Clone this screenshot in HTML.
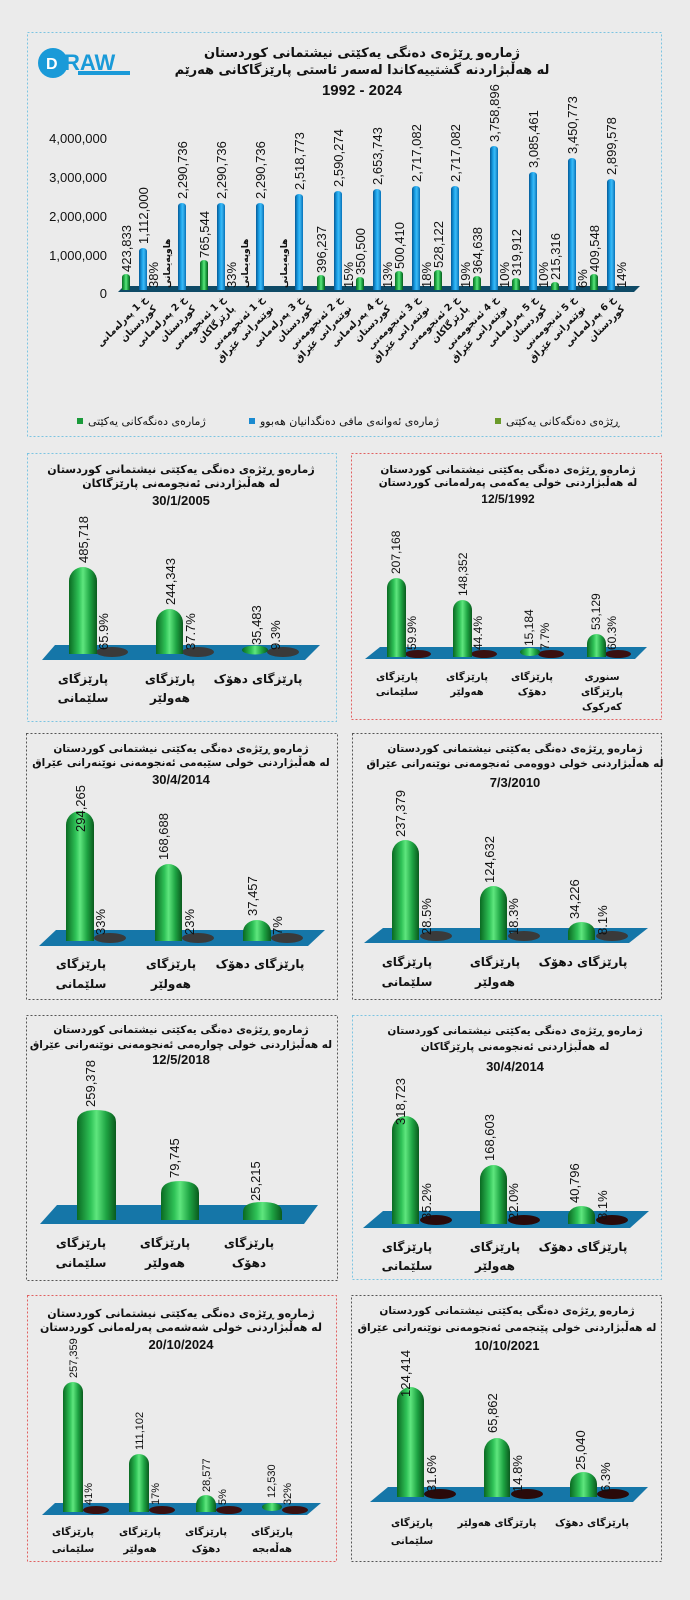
<!DOCTYPE html>
<html><head><meta charset="utf-8"><style>
html,body{margin:0;padding:0;background:#ebebeb;}
svg{display:block;}
.t{font-family:"DejaVu Sans","Liberation Sans",sans-serif;font-weight:bold;fill:#111;}
.v{font-family:"Liberation Sans",sans-serif;fill:#111;}
</style></head><body>
<svg width="690" height="1600" viewBox="0 0 690 1600" xmlns="http://www.w3.org/2000/svg">
<defs>
<linearGradient id="g" x1="0" x2="1" y1="0" y2="0">
<stop offset="0" stop-color="#0a6a22"/><stop offset="0.35" stop-color="#2fc257"/><stop offset="0.5" stop-color="#5fe67e"/><stop offset="0.75" stop-color="#1ea443"/><stop offset="1" stop-color="#0a5a1d"/></linearGradient>
<linearGradient id="b" x1="0" x2="1" y1="0" y2="0">
<stop offset="0" stop-color="#045a98"/><stop offset="0.4" stop-color="#1ea6ec"/><stop offset="0.6" stop-color="#3cbaf5"/><stop offset="1" stop-color="#0670b8"/></linearGradient>
</defs>
<rect width="690" height="1600" fill="#ebebeb"/>

<!-- TOP PANEL -->
<rect x="27.5" y="32.5" width="634" height="404" fill="none" stroke="#7cc4e2" stroke-dasharray="2,2"/>
<circle cx="53" cy="63" r="15" fill="#1a9ad8"/>
<text x="46" y="69" class="v" style="font-size:16px;font-weight:bold;fill:#fff">D</text>
<text x="64" y="70" class="v" style="font-size:22px;font-weight:bold;fill:#1a9ad8">RAW</text>
<rect x="78" y="71" width="52" height="4" fill="#1a9ad8"/>
<text x="362" y="57" text-anchor="middle" class="t" style="font-size:13px">ژمارەو ڕێژەی دەنگی یەکێتی نیشتمانی کوردستان</text>
<text x="362" y="74" text-anchor="middle" class="t" style="font-size:13px">لە هەڵبژاردنە گشتییەکاندا لەسەر ئاستی پارێزگاکانی هەرێم</text>
<text x="362" y="95" text-anchor="middle" class="v" style="font-size:15px;font-weight:bold">1992 - 2024</text>
<g class="v" style="font-size:13px" text-anchor="end">
<text x="107" y="143">4,000,000</text><text x="107" y="182">3,000,000</text><text x="107" y="221">2,000,000</text><text x="107" y="260">1,000,000</text><text x="107" y="298">0</text></g>
<polygon points="118,292 124,286 640,286 634,292" fill="#0e4a66"/>
<g id="topbars">
<path d="M139 290V251A4 3 0 0 1 147 251V290Z" fill="url(#b)"/>
<path d="M178 290V206A4 3 0 0 1 186 206V290Z" fill="url(#b)"/>
<path d="M217 290V206A4 3 0 0 1 225 206V290Z" fill="url(#b)"/>
<path d="M256 290V206A4 3 0 0 1 264 206V290Z" fill="url(#b)"/>
<path d="M295 290V197A4 3 0 0 1 303 197V290Z" fill="url(#b)"/>
<path d="M334 290V194A4 3 0 0 1 342 194V290Z" fill="url(#b)"/>
<path d="M373 290V192A4 3 0 0 1 381 192V290Z" fill="url(#b)"/>
<path d="M412 290V189A4 3 0 0 1 420 189V290Z" fill="url(#b)"/>
<path d="M451 290V189A4 3 0 0 1 459 189V290Z" fill="url(#b)"/>
<path d="M490 290V149A4 3 0 0 1 498 149V290Z" fill="url(#b)"/>
<path d="M529 290V175A4 3 0 0 1 537 175V290Z" fill="url(#b)"/>
<path d="M568 290V161A4 3 0 0 1 576 161V290Z" fill="url(#b)"/>
<path d="M607 290V182A4 3 0 0 1 615 182V290Z" fill="url(#b)"/>
<path d="M122 290V277A4 3 0 0 1 130 277V290Z" fill="url(#g)"/>
<path d="M200 290V263A4 3 0 0 1 208 263V290Z" fill="url(#g)"/>
<path d="M317 290V278A4 3 0 0 1 325 278V290Z" fill="url(#g)"/>
<path d="M356 290V280A4 3 0 0 1 364 280V290Z" fill="url(#g)"/>
<path d="M395 290V274A4 3 0 0 1 403 274V290Z" fill="url(#g)"/>
<path d="M434 290V273A4 3 0 0 1 442 273V290Z" fill="url(#g)"/>
<path d="M473 290V279A4 3 0 0 1 481 279V290Z" fill="url(#g)"/>
<path d="M512 290V281A4 3 0 0 1 520 281V290Z" fill="url(#g)"/>
<path d="M551 290V285A4 3 0 0 1 559 285V290Z" fill="url(#g)"/>
<path d="M590 290V277A4 3 0 0 1 598 277V290Z" fill="url(#g)"/>
</g>
<g class="v" style="font-size:13px">
<text transform="translate(148,244) rotate(-90)">1,112,000</text>
<text transform="translate(187,199) rotate(-90)">2,290,736</text>
<text transform="translate(226,199) rotate(-90)">2,290,736</text>
<text transform="translate(265,199) rotate(-90)">2,290,736</text>
<text transform="translate(304,190) rotate(-90)">2,518,773</text>
<text transform="translate(343,187) rotate(-90)">2,590,274</text>
<text transform="translate(382,185) rotate(-90)">2,653,743</text>
<text transform="translate(421,182) rotate(-90)">2,717,082</text>
<text transform="translate(460,182) rotate(-90)">2,717,082</text>
<text transform="translate(499,142) rotate(-90)">3,758,896</text>
<text transform="translate(538,168) rotate(-90)">3,085,461</text>
<text transform="translate(577,154) rotate(-90)">3,450,773</text>
<text transform="translate(616,175) rotate(-90)">2,899,578</text>
<text transform="translate(131,272) rotate(-90)">423,833</text>
<text transform="translate(209,258) rotate(-90)">765,544</text>
<text transform="translate(326,273) rotate(-90)">396,237</text>
<text transform="translate(365,275) rotate(-90)">350,500</text>
<text transform="translate(404,269) rotate(-90)">500,410</text>
<text transform="translate(443,268) rotate(-90)">528,122</text>
<text transform="translate(482,274) rotate(-90)">364,638</text>
<text transform="translate(521,276) rotate(-90)">319,912</text>
<text transform="translate(560,280) rotate(-90)">215,316</text>
<text transform="translate(599,272) rotate(-90)">409,548</text>
<text transform="translate(158,288) rotate(-90)">38%</text>
<text transform="translate(236,288) rotate(-90)">33%</text>
<text transform="translate(353,288) rotate(-90)">15%</text>
<text transform="translate(392,288) rotate(-90)">13%</text>
<text transform="translate(431,288) rotate(-90)">18%</text>
<text transform="translate(470,288) rotate(-90)">19%</text>
<text transform="translate(509,288) rotate(-90)">10%</text>
<text transform="translate(548,288) rotate(-90)">10%</text>
<text transform="translate(587,288) rotate(-90)">6%</text>
<text transform="translate(626,288) rotate(-90)">14%</text>
</g>
<g class="t" style="font-size:9px">
<text transform="translate(170,288) rotate(-90)">هاوپەیمانی</text>
<text transform="translate(248,288) rotate(-90)">هاوپەیمانی</text>
<text transform="translate(287,288) rotate(-90)">هاوپەیمانی</text>
</g>
<g class="t" style="font-size:9.5px" text-anchor="end">
<g transform="translate(148,300) rotate(-45)"><text>خ 1 پەرلەمانی</text><text y="13">کوردستان</text></g>
<g transform="translate(187,300) rotate(-45)"><text>خ 2 پەرلەمانی</text><text y="13">کوردستان</text></g>
<g transform="translate(226,300) rotate(-45)"><text>خ 1 ئەنجومەنی</text><text y="13">پارێزگاکان</text></g>
<g transform="translate(265,300) rotate(-45)"><text>خ 1 ئەنجومەنی</text><text y="13">نوێنەرانی عێراق</text></g>
<g transform="translate(304,300) rotate(-45)"><text>خ 3 پەرلەمانی</text><text y="13">کوردستان</text></g>
<g transform="translate(343,300) rotate(-45)"><text>خ 2 ئەنجومەنی</text><text y="13">نوێنەرانی عێراق</text></g>
<g transform="translate(382,300) rotate(-45)"><text>خ 4 پەرلەمانی</text><text y="13">کوردستان</text></g>
<g transform="translate(421,300) rotate(-45)"><text>خ 3 ئەنجومەنی</text><text y="13">نوێنەرانی عێراق</text></g>
<g transform="translate(460,300) rotate(-45)"><text>خ 2 ئەنجومەنی</text><text y="13">پارێزگاکان</text></g>
<g transform="translate(499,300) rotate(-45)"><text>خ 4 ئەنجومەنی</text><text y="13">نوێنەرانی عێراق</text></g>
<g transform="translate(538,300) rotate(-45)"><text>خ 5 پەرلەمانی</text><text y="13">کوردستان</text></g>
<g transform="translate(577,300) rotate(-45)"><text>خ 5 ئەنجومەنی</text><text y="13">نوێنەرانی عێراق</text></g>
<g transform="translate(616,300) rotate(-45)"><text>خ 6 پەرلەمانی</text><text y="13">کوردستان</text></g>
</g>
<rect x="77" y="418" width="6" height="6" fill="#1a9a3a"/>
<text x="88" y="425" class="t" style="font-size:11px;font-weight:normal">ژمارەی دەنگەکانی یەکێتی</text>
<rect x="249" y="418" width="6" height="6" fill="#1a8ad0"/>
<text x="260" y="425" class="t" style="font-size:11px;font-weight:normal">ژمارەی ئەوانەی مافی دەنگدانیان هەبوو</text>
<rect x="495" y="418" width="6" height="6" fill="#6a9a2a"/>
<text x="506" y="425" class="t" style="font-size:11px;font-weight:normal">ڕێژەی دەنگەکانی یەکێتی</text>

<!-- P2 -->
<rect x="27.5" y="453.5" width="309" height="268" fill="none" stroke="#7cc4e2" stroke-dasharray="2,2"/>
<text x="181" y="473" text-anchor="middle" class="t" style="font-size:11px">ژمارەو ڕێژەی دەنگی یەکێتی نیشتمانی کوردستان</text>
<text x="181" y="487" text-anchor="middle" class="t" style="font-size:11px">لە هەڵبژاردنی ئەنجومەنی پارێزگاکان</text>
<text x="181" y="505" text-anchor="middle" class="v" style="font-size:13px;font-weight:bold">30/1/2005</text>
<polygon points="42,660 55,645 320,645 305,660" fill="#1576a8"/>
<ellipse cx="112" cy="652" rx="16" ry="5" fill="#3a3a3a"/><ellipse cx="198" cy="652" rx="16" ry="5" fill="#3a3a3a"/><ellipse cx="283" cy="652" rx="16" ry="5" fill="#3a3a3a"/>
<path d="M69 654V581A14 14 0 0 1 97 581V654Z" fill="url(#g)"/>
<path d="M156 654V623A13.5 14 0 0 1 183 623V654Z" fill="url(#g)"/>
<ellipse cx="255" cy="650" rx="13" ry="4.5" fill="url(#g)"/>
<g class="v" style="font-size:13px">
<text transform="translate(88,563) rotate(-90)">485,718</text>
<text transform="translate(175,605) rotate(-90)">244,343</text>
<text transform="translate(261,645) rotate(-90)">35,483</text>
<text transform="translate(108,650) rotate(-90)">65.9%</text>
<text transform="translate(195,650) rotate(-90)">37.7%</text>
<text transform="translate(280,650) rotate(-90)">9.3%</text>
</g>
<g class="t" style="font-size:12px" text-anchor="middle">
<text x="83" y="683">پارێزگای</text><text x="83" y="702">سلێمانی</text>
<text x="170" y="683">پارێزگای</text><text x="170" y="702">هەولێر</text>
<text x="258" y="683">پارێزگای دهۆک</text></g>

<!-- P3 -->
<rect x="351.5" y="453.5" width="310" height="266" fill="none" stroke="#e06060" stroke-dasharray="2,2"/>
<text x="508" y="473" text-anchor="middle" class="t" style="font-size:10.5px">ژمارەو ڕێژەی دەنگی یەکێتی نیشتمانی کوردستان</text>
<text x="508" y="486" text-anchor="middle" class="t" style="font-size:10.5px">لە هەڵبژاردنی خولی یەکەمی پەرلەمانی کوردستان</text>
<text x="508" y="503" text-anchor="middle" class="v" style="font-size:12px;font-weight:bold">12/5/1992</text>
<polygon points="365,659 380,647 647,647 635,659" fill="#1576a8"/>
<ellipse cx="418" cy="654" rx="13" ry="4" fill="#3a1010"/><ellipse cx="484" cy="654" rx="13" ry="4" fill="#3a1010"/><ellipse cx="551" cy="654" rx="13" ry="4" fill="#3a1010"/><ellipse cx="618" cy="654" rx="13" ry="4" fill="#3a1010"/>
<path d="M387 657V588A9.5 10 0 0 1 406 588V657Z" fill="url(#g)"/>
<path d="M453 657V610A9.5 10 0 0 1 472 610V657Z" fill="url(#g)"/>
<ellipse cx="530" cy="652" rx="10" ry="4" fill="url(#g)"/>
<path d="M587 657V644A9.5 10 0 0 1 606 644V657Z" fill="url(#g)"/>
<g class="v" style="font-size:12px">
<text transform="translate(400,574) rotate(-90)">207,168</text>
<text transform="translate(467,596) rotate(-90)">148,352</text>
<text transform="translate(533,646) rotate(-90)">15,184</text>
<text transform="translate(600,630) rotate(-90)">53,129</text>
<text transform="translate(416,650) rotate(-90)">59.9%</text>
<text transform="translate(482,650) rotate(-90)">44.4%</text>
<text transform="translate(549,650) rotate(-90)">7.7%</text>
<text transform="translate(616,650) rotate(-90)">60.3%</text>
</g>
<g class="t" style="font-size:10px" text-anchor="middle">
<text x="397" y="680">پارێزگای</text><text x="397" y="695">سلێمانی</text>
<text x="467" y="680">پارێزگای</text><text x="467" y="695">هەولێر</text>
<text x="532" y="680">پارێزگای</text><text x="532" y="695">دهۆک</text>
<text x="602" y="680">سنوری</text><text x="602" y="695">پارێزگای</text><text x="602" y="710">کەرکوک</text></g>

<!-- P4 -->
<rect x="26.5" y="733.5" width="311" height="266" fill="none" stroke="#555" stroke-dasharray="2,2"/>
<text x="181" y="752" text-anchor="middle" class="t" style="font-size:10.5px">ژمارەو ڕێژەی دەنگی یەکێتی نیشتمانی کوردستان</text>
<text x="181" y="766" text-anchor="middle" class="t" style="font-size:10.5px">لە هەڵبژاردنی خولی سێیەمی ئەنجومەنی نوێنەرانی عێراق</text>
<text x="181" y="784" text-anchor="middle" class="v" style="font-size:13px;font-weight:bold">30/4/2014</text>
<polygon points="39,946 56,930 325,930 308,946" fill="#1576a8"/>
<ellipse cx="110" cy="938" rx="16" ry="5" fill="#3a3a3a"/><ellipse cx="198" cy="938" rx="16" ry="5" fill="#3a3a3a"/><ellipse cx="287" cy="938" rx="16" ry="5" fill="#3a3a3a"/>
<path d="M66 941V825A14 14 0 0 1 94 825V941Z" fill="url(#g)"/>
<path d="M155 941V878A13.5 14 0 0 1 182 878V941Z" fill="url(#g)"/>
<path d="M243 941V932A14 12 0 0 1 271 932V941Z" fill="url(#g)"/>
<g class="v" style="font-size:13px">
<text transform="translate(85,832) rotate(-90)">294,265</text>
<text transform="translate(168,860) rotate(-90)">168,688</text>
<text transform="translate(257,916) rotate(-90)">37,457</text>
<text transform="translate(105,935) rotate(-90)">33%</text>
<text transform="translate(194,935) rotate(-90)">23%</text>
<text transform="translate(282,935) rotate(-90)">7%</text>
</g>
<g class="t" style="font-size:12px" text-anchor="middle">
<text x="81" y="968">پارێزگای</text><text x="81" y="988">سلێمانی</text>
<text x="171" y="968">پارێزگای</text><text x="171" y="988">هەولێر</text>
<text x="260" y="968">پارێزگای دهۆک</text></g>

<!-- P5 -->
<rect x="352.5" y="733.5" width="309" height="266" fill="none" stroke="#555" stroke-dasharray="2,2"/>
<text x="515" y="752" text-anchor="middle" class="t" style="font-size:10.5px">ژمارەو ڕێژەی دەنگی یەکێتی نیشتمانی کوردستان</text>
<text x="515" y="767" text-anchor="middle" class="t" style="font-size:10.5px">لە هەڵبژاردنی خولی دووەمی ئەنجومەنی نوێنەرانی عێراق</text>
<text x="515" y="787" text-anchor="middle" class="v" style="font-size:13px;font-weight:bold">7/3/2010</text>
<polygon points="364,943 383,928 648,928 629,943" fill="#1576a8"/>
<ellipse cx="436" cy="936" rx="16" ry="5" fill="#3a3a3a"/><ellipse cx="524" cy="936" rx="16" ry="5" fill="#3a3a3a"/><ellipse cx="612" cy="936" rx="16" ry="5" fill="#3a3a3a"/>
<path d="M392 940V854A13.5 14 0 0 1 419 854V940Z" fill="url(#g)"/>
<path d="M480 940V900A13.5 14 0 0 1 507 900V940Z" fill="url(#g)"/>
<path d="M568 940V932A13.5 10 0 0 1 595 932V940Z" fill="url(#g)"/>
<g class="v" style="font-size:13px">
<text transform="translate(405,837) rotate(-90)">237,379</text>
<text transform="translate(494,883) rotate(-90)">124,632</text>
<text transform="translate(579,919) rotate(-90)">34,226</text>
<text transform="translate(431,935) rotate(-90)">28.5%</text>
<text transform="translate(518,935) rotate(-90)">18.3%</text>
<text transform="translate(607,935) rotate(-90)">8.1%</text>
</g>
<g class="t" style="font-size:12px" text-anchor="middle">
<text x="407" y="966">پارێزگای</text><text x="407" y="986">سلێمانی</text>
<text x="495" y="966">پارێزگای</text><text x="495" y="986">هەولێر</text>
<text x="583" y="966">پارێزگای دهۆک</text></g>

<!-- P6 -->
<rect x="26.5" y="1015.5" width="311" height="265" fill="none" stroke="#555" stroke-dasharray="2,2"/>
<text x="181" y="1033" text-anchor="middle" class="t" style="font-size:10.5px">ژمارەو ڕێژەی دەنگی یەکێتی نیشتمانی کوردستان</text>
<text x="181" y="1048" text-anchor="middle" class="t" style="font-size:10.5px">لە هەڵبژاردنی خولی چوارەمی ئەنجومەنی نوێنەرانی عێراق</text>
<text x="181" y="1064" text-anchor="middle" class="v" style="font-size:13px;font-weight:bold">12/5/2018</text>
<polygon points="40,1224 57,1205 318,1205 304,1224" fill="#1576a8"/>
<path d="M77 1220V1122Q77 1110 96 1110Q116 1110 116 1122V1220Z" fill="url(#g)"/>
<path d="M161 1220V1193Q161 1181 180 1181Q199 1181 199 1193V1220Z" fill="url(#g)"/>
<path d="M243 1220V1212Q243 1202 262 1202Q282 1202 282 1212V1220Z" fill="url(#g)"/>
<g class="v" style="font-size:13px">
<text transform="translate(95,1107) rotate(-90)">259,378</text>
<text transform="translate(179,1178) rotate(-90)">79,745</text>
<text transform="translate(260,1201) rotate(-90)">25,215</text>
</g>
<g class="t" style="font-size:12px" text-anchor="middle">
<text x="81" y="1247">پارێزگای</text><text x="81" y="1267">سلێمانی</text>
<text x="165" y="1247">پارێزگای</text><text x="165" y="1267">هەولێر</text>
<text x="249" y="1247">پارێزگای</text><text x="249" y="1267">دهۆک</text></g>

<!-- P7 -->
<rect x="352.5" y="1015.5" width="309" height="264" fill="none" stroke="#7cc4e2" stroke-dasharray="2,2"/>
<text x="515" y="1034" text-anchor="middle" class="t" style="font-size:10.5px">ژمارەو ڕێژەی دەنگی یەکێتی نیشتمانی کوردستان</text>
<text x="515" y="1050" text-anchor="middle" class="t" style="font-size:10.5px">لە هەڵبژاردنی ئەنجومەنی پارێزگاکان</text>
<text x="515" y="1071" text-anchor="middle" class="v" style="font-size:13px;font-weight:bold">30/4/2014</text>
<polygon points="363,1228 383,1211 649,1211 630,1228" fill="#1576a8"/>
<ellipse cx="436" cy="1220" rx="16" ry="5" fill="#2a0a0a"/><ellipse cx="524" cy="1220" rx="16" ry="5" fill="#2a0a0a"/><ellipse cx="612" cy="1220" rx="16" ry="5" fill="#2a0a0a"/>
<path d="M392 1224V1130A13.5 14 0 0 1 419 1130V1224Z" fill="url(#g)"/>
<path d="M480 1224V1179A13.5 14 0 0 1 507 1179V1224Z" fill="url(#g)"/>
<path d="M568 1224V1216A13.5 10 0 0 1 595 1216V1224Z" fill="url(#g)"/>
<g class="v" style="font-size:13px">
<text transform="translate(405,1125) rotate(-90)">318,723</text>
<text transform="translate(494,1161) rotate(-90)">168,603</text>
<text transform="translate(579,1203) rotate(-90)">40,796</text>
<text transform="translate(431,1220) rotate(-90)">35.2%</text>
<text transform="translate(518,1220) rotate(-90)">22.0%</text>
<text transform="translate(607,1220) rotate(-90)">8.1%</text>
</g>
<g class="t" style="font-size:12px" text-anchor="middle">
<text x="407" y="1251">پارێزگای</text><text x="407" y="1270">سلێمانی</text>
<text x="495" y="1251">پارێزگای</text><text x="495" y="1270">هەولێر</text>
<text x="583" y="1251">پارێزگای دهۆک</text></g>

<!-- P8 -->
<rect x="27.5" y="1295.5" width="309" height="266" fill="none" stroke="#e06060" stroke-dasharray="2,2"/>
<text x="181" y="1317" text-anchor="middle" class="t" style="font-size:11px">ژمارەو ڕێژەی دەنگی یەکێتی نیشتمانی کوردستان</text>
<text x="181" y="1331" text-anchor="middle" class="t" style="font-size:11px">لە هەڵبژاردنی خولی شەشەمی پەرلەمانی کوردستان</text>
<text x="181" y="1349" text-anchor="middle" class="v" style="font-size:13px;font-weight:bold">20/10/2024</text>
<polygon points="42,1515 55,1503 321,1503 307,1515" fill="#1576a8"/>
<ellipse cx="96" cy="1510" rx="13" ry="4" fill="#3a1010"/><ellipse cx="162" cy="1510" rx="13" ry="4" fill="#3a1010"/><ellipse cx="229" cy="1510" rx="13" ry="4" fill="#3a1010"/><ellipse cx="295" cy="1510" rx="13" ry="4" fill="#3a1010"/>
<path d="M63 1512V1392A10 10 0 0 1 83 1392V1512Z" fill="url(#g)"/>
<path d="M129 1512V1464A10 10 0 0 1 149 1464V1512Z" fill="url(#g)"/>
<path d="M196 1512V1505A10 10 0 0 1 216 1505V1512Z" fill="url(#g)"/>
<ellipse cx="272" cy="1507" rx="10" ry="4" fill="url(#g)"/>
<g class="v" style="font-size:11px">
<text transform="translate(77,1378) rotate(-90)">257,359</text>
<text transform="translate(143,1450) rotate(-90)">111,102</text>
<text transform="translate(210,1492) rotate(-90)">28,577</text>
<text transform="translate(275,1498) rotate(-90)">12,530</text>
<text transform="translate(92,1505) rotate(-90)">41%</text>
<text transform="translate(159,1505) rotate(-90)">17%</text>
<text transform="translate(226,1505) rotate(-90)">5%</text>
<text transform="translate(291,1505) rotate(-90)">32%</text>
</g>
<g class="t" style="font-size:10px" text-anchor="middle">
<text x="73" y="1535">پارێزگای</text><text x="73" y="1552">سلێمانی</text>
<text x="140" y="1535">پارێزگای</text><text x="140" y="1552">هەولێر</text>
<text x="206" y="1535">پارێزگای</text><text x="206" y="1552">دهۆک</text>
<text x="272" y="1535">پارێزگای</text><text x="272" y="1552">هەڵەبجە</text></g>

<!-- P9 -->
<rect x="351.5" y="1295.5" width="310" height="266" fill="none" stroke="#555" stroke-dasharray="2,2"/>
<text x="507" y="1314" text-anchor="middle" class="t" style="font-size:10.5px">ژمارەو ڕێژەی دەنگی یەکێتی نیشتمانی کوردستان</text>
<text x="507" y="1331" text-anchor="middle" class="t" style="font-size:10.5px">لە هەڵبژاردنی خولی پێنجەمی ئەنجومەنی نوێنەرانی عێراق</text>
<text x="507" y="1350" text-anchor="middle" class="v" style="font-size:13px;font-weight:bold">10/10/2021</text>
<polygon points="370,1502 388,1487 648,1487 633,1502" fill="#1576a8"/>
<ellipse cx="440" cy="1494" rx="16" ry="5" fill="#2a0a0a"/><ellipse cx="527" cy="1494" rx="16" ry="5" fill="#2a0a0a"/><ellipse cx="613" cy="1494" rx="16" ry="5" fill="#2a0a0a"/>
<path d="M397 1497V1401A13.5 14 0 0 1 424 1401V1497Z" fill="url(#g)"/>
<path d="M484 1497V1452A13 14 0 0 1 510 1452V1497Z" fill="url(#g)"/>
<path d="M570 1497V1484A13.5 12 0 0 1 597 1484V1497Z" fill="url(#g)"/>
<g class="v" style="font-size:13px">
<text transform="translate(410,1397) rotate(-90)">124,414</text>
<text transform="translate(497,1433) rotate(-90)">65,862</text>
<text transform="translate(585,1470) rotate(-90)">25,040</text>
<text transform="translate(436,1492) rotate(-90)">31.6%</text>
<text transform="translate(522,1492) rotate(-90)">14.8%</text>
<text transform="translate(610,1492) rotate(-90)">6.3%</text>
</g>
<g class="t" style="font-size:10px" text-anchor="middle">
<text x="412" y="1526">پارێزگای</text><text x="412" y="1544">سلێمانی</text>
<text x="497" y="1526">پارێزگای هەولێر</text>
<text x="592" y="1526">پارێزگای دهۆک</text></g>
</svg>
</body></html>
